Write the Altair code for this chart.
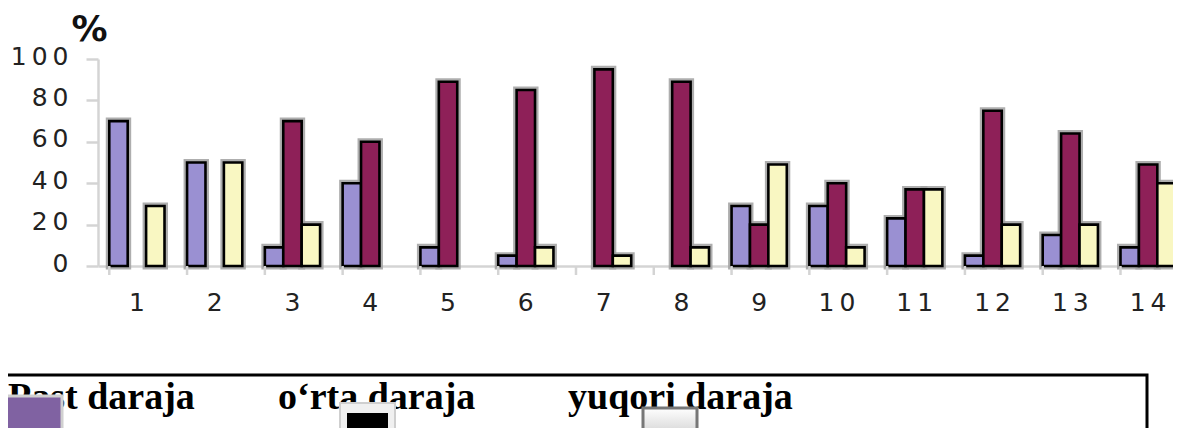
import altair as alt
import pandas as pd

# ---- data ----
categories = list(range(1, 15))
series = ["Past daraja", "o\u2018rta daraja", "yuqori daraja"]
low_vals = [70, 50, 9, 40, 9, 5, 0, 0, 29, 29, 23, 5, 15, 9]
mid_vals = [0, 0, 70, 60, 89, 85, 95, 89, 20, 40, 37, 75, 64, 49]
high_vals = [29, 50, 20, 0, 0, 9, 5, 9, 49, 9, 37, 20, 20, 40]
y_ticks = [0, 20, 40, 60, 80, 100]
bar_colors = ["#9a90d2", "#8e2058", "#f9f7c2"]

rows = []
for vals, s in zip([low_vals, mid_vals, high_vals], series):
    for c, v in zip(categories, vals):
        if v > 0:
            rows.append({"cat": c, "s": s, "v": v})
df = pd.DataFrame(rows)
cats_df = pd.DataFrame({"cat": categories})
one = pd.DataFrame({"k": [0]})

GRAY = "#d4d4d4"
PLOT_W, PLOT_H = 1075, 207
spaced = "replace(datum.label, regexp('([0-9])(?=[0-9])', 'g'), '$1' + '\u2009')"

x_scale = alt.Scale(range=[0, 1089], paddingInner=0.29, paddingOuter=0.145)
x_axis = alt.Axis(
    title=None, labelAngle=0, ticks=False, tickSize=0, grid=False,
    domainColor=GRAY, domainWidth=2.5, labelFont="DejaVu Sans",
    labelFontSize=25, labelColor="#222222", labelPadding=24, labelExpr=spaced,
)
y_scale = alt.Scale(domain=[0, 100], nice=False)
y_axis = alt.Axis(
    values=y_ticks, grid=False, domainColor=GRAY, domainWidth=2.5,
    tickColor=GRAY, tickWidth=2.5, tickSize=12, labelFont="DejaVu Sans",
    labelFontSize=25, labelColor="#222222", labelPadding=18, labelOffset=-3,
    labelExpr=spaced, title="%", titleAngle=0, titleAlign="center",
    titleBaseline="middle", titleX=-9, titleY=-30, titleFont="DejaVu Sans",
    titleFontSize=36, titleFontWeight="bold", titleColor="#111",
)

xo = alt.XOffset("s:N", scale=alt.Scale(domain=series, paddingInner=0, paddingOuter=0))
x_enc = alt.X("cat:O", scale=x_scale, axis=x_axis)
y_enc = alt.Y("v:Q", scale=y_scale, axis=y_axis)

halo = alt.Chart(df).mark_bar(
    color="#a0a0a0", stroke="#a0a0a0", strokeWidth=7, strokeOpacity=0.85
).encode(x=x_enc, xOffset=xo, y=y_enc)

bars = alt.Chart(df).mark_bar(stroke="black", strokeWidth=2.6).encode(
    x=x_enc, xOffset=xo, y=y_enc,
    color=alt.Color("s:N", scale=alt.Scale(domain=series, range=bar_colors), legend=None),
)

ticks = alt.Chart(cats_df).mark_rule(color=GRAY, strokeWidth=2.5).encode(
    x=alt.X("cat:O", scale=x_scale, axis=x_axis, bandPosition=0),
    y=alt.value(PLOT_H), y2=alt.value(PLOT_H + 9),
)

# ---- pseudo legend box below the chart ----
box = alt.Chart(one).mark_rect(fillOpacity=0, stroke="black", strokeWidth=3).encode(
    x=alt.value(-100), x2=alt.value(1049), y=alt.value(316), y2=alt.value(420)
)

def label(txt, px):
    return alt.Chart(one).mark_text(
        text=txt, align="left", baseline="alphabetic", font="Liberation Serif",
        fontSize=38, fontWeight="bold", color="black",
    ).encode(x=alt.value(px), y=alt.value(350))

t1 = label(series[0], -90)
t2 = label(series[1], 180)
t3 = label(series[2], 470)

sw1 = alt.Chart(one).mark_rect(fill="#8062a2", stroke="#d0d0d0", strokeWidth=3).encode(
    x=alt.value(-100), x2=alt.value(-36), y=alt.value(337), y2=alt.value(420)
)
sw2o = alt.Chart(one).mark_rect(fill="#f0f0f0", stroke="#cfcfcf", strokeWidth=2).encode(
    x=alt.value(242), x2=alt.value(297), y=alt.value(344), y2=alt.value(420)
)
sw2 = alt.Chart(one).mark_rect(fill="black").encode(
    x=alt.value(249), x2=alt.value(290), y=alt.value(354), y2=alt.value(379)
)
grad = alt.Gradient(
    gradient="linear", x1=0, x2=0, y1=0, y2=1,
    stops=[alt.GradientStop(color="#ffffff", offset=0), alt.GradientStop(color="#8c8c8c", offset=1)],
)
sw3 = alt.Chart(one).mark_rect(fill=grad, stroke="#777777", strokeWidth=3).encode(
    x=alt.value(545), x2=alt.value(599), y=alt.value(349), y2=alt.value(420)
)

chart = alt.layer(halo, bars, ticks, box, t1, t2, t3, sw1, sw2o, sw2, sw3).properties(
    width=PLOT_W, height=PLOT_H,
    autosize=alt.AutoSizeParams(type="none"),
    padding={"left": 90, "top": 51, "right": 0, "bottom": 162},
).configure_view(stroke=None)

chart.save("out.html", embed_options={"renderer": "svg", "actions": False})
